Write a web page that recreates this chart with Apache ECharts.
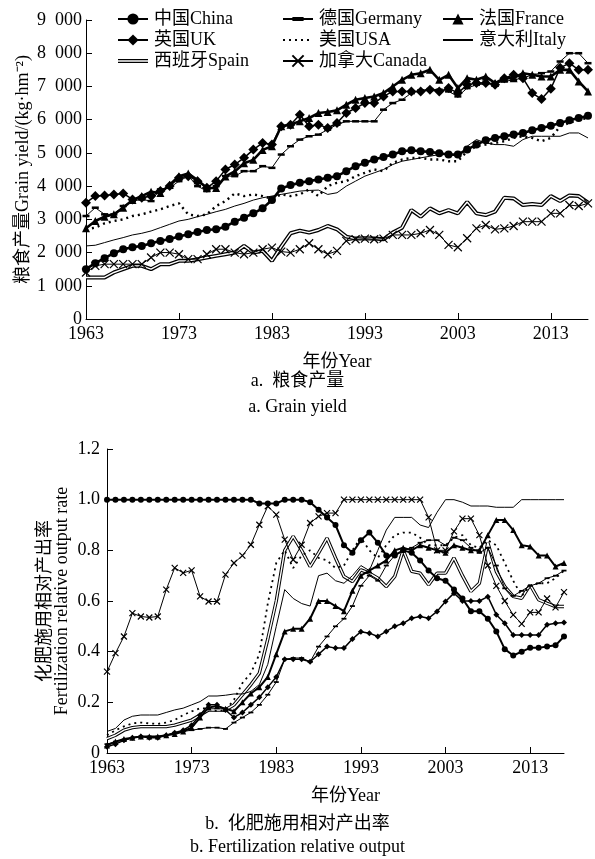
<!DOCTYPE html>
<html>
<head>
<meta charset="utf-8">
<script src="https://cdn.jsdelivr.net/npm/echarts@6/dist/echarts.min.js"></script>
<style>
  html, body { margin: 0; padding: 0; background: #fff; }
  #chart { width: 595px; height: 859px; }
</style>
</head>
<body>
<div id="chart"></div>
<script>
const years = [1963, 1964, 1965, 1966, 1967, 1968, 1969, 1970, 1971, 1972,
  1973, 1974, 1975, 1976, 1977, 1978, 1979, 1980, 1981, 1982,
  1983, 1984, 1985, 1986, 1987, 1988, 1989, 1990, 1991, 1992,
  1993, 1994, 1995, 1996, 1997, 1998, 1999, 2000, 2001, 2002,
  2003, 2004, 2005, 2006, 2007, 2008, 2009, 2010, 2011, 2012,
  2013, 2014, 2015, 2016, 2017]
const xTicks = [1963, 1973, 1983, 1993, 2003, 2013]

// a. grain yield, kg/hm2
const yieldChina = [1500, 1680, 1830, 1980, 2100, 2160, 2200, 2280, 2350, 2410,
  2480, 2550, 2620, 2680, 2700, 2780, 2930, 3050, 3180, 3330,
  3580, 3930, 4030, 4100, 4150, 4200, 4250, 4300, 4450, 4600,
  4700, 4800, 4880, 4950, 5050, 5080, 5050, 5030, 4990, 4950,
  4950, 5100, 5250, 5380, 5450, 5500, 5550, 5600, 5680, 5750,
  5820, 5900, 5980, 6050, 6120]
const yieldGermany = [3100, 3350, 3150, 3150, 3400, 3550, 3600, 3550, 3900, 3950,
  4150, 4300, 4000, 3850, 4000, 4300, 4300, 4450, 4450, 4600,
  4550, 4950, 5200, 5400, 5500, 5550, 5700, 5850, 5950, 5950,
  5950, 5950, 6300, 6500, 6600, 6800, 6880, 6920, 6900, 6850,
  6700, 6950, 7050, 7080, 7100, 7150, 7200, 7250, 7350, 7400,
  7450, 7750, 8000, 8000, 7700]
const yieldFrance = [2730, 2950, 3080, 3150, 3350, 3580, 3700, 3830, 3790, 4040,
  4300, 4380, 4180, 3950, 3940, 4290, 4440, 4690, 4790, 5090,
  5200, 5800, 5850, 5950, 6050, 6200, 6230, 6280, 6450, 6600,
  6650, 6700, 6800, 7000, 7200, 7350, 7400, 7500, 7200, 7350,
  6950, 7250, 7200, 7300, 7100, 7250, 7250, 7400, 7350, 7300,
  7300, 7500, 7500, 7150, 6850]
const yieldUK = [3500, 3700, 3720, 3750, 3780, 3600, 3650, 3700, 3850, 4000,
  4250, 4300, 4150, 3950, 4150, 4500, 4650, 4850, 5100, 5300,
  5250, 5800, 5850, 6150, 5800, 5850, 5750, 5900, 6200, 6350,
  6500, 6500, 6700, 6850, 6850, 6850, 6850, 6900, 6850, 6950,
  6800, 7050, 7100, 7100, 7050, 7250, 7350, 7250, 6800, 6620,
  6930, 7560, 7700, 7500, 7500]
const yieldUSA = [2700, 2750, 2880, 2950, 3000, 3100, 3150, 3230, 3300, 3400,
  3480, 3150, 3100, 3150, 3400, 3550, 3780, 3700, 3750, 3700,
  3620, 3750, 3700, 3750, 3900, 3700, 4000, 4100, 4150, 4300,
  4400, 4500, 4450, 4700, 4800, 4850, 4850, 4800, 4800, 4750,
  4750, 5050, 5200, 5250, 5300, 5350, 5450, 5500, 5450, 5350,
  5450, 5800, 5900, 6000, 6050]
const yieldItaly = [2200, 2220, 2300, 2380, 2450, 2530, 2580, 2650, 2750, 2850,
  2950, 3000, 3080, 3150, 3230, 3300, 3400, 3480, 3580, 3650,
  3700, 3750, 3800, 3850, 3870, 3880, 3750, 3800, 4000, 4150,
  4300, 4400, 4500, 4650, 4750, 4800, 4850, 4900, 4950, 4950,
  4900, 5200, 5400, 5300, 5250, 5250, 5200, 5400, 5500, 5500,
  5500, 5500, 5600, 5600, 5450]
const yieldSpain = [1250, 1250, 1250, 1400, 1500, 1600, 1600, 1500, 1650, 1650,
  1750, 1750, 1800, 1850, 1900, 1950, 2000, 2200, 2000, 2050,
  1750, 2180, 2580, 2660, 2600, 2680, 2800, 2700, 2480, 2420,
  2430, 2420, 2400, 2600, 2750, 3280, 3080, 3330, 3180, 3280,
  3180, 3520, 3180, 3130, 3230, 3650, 3630, 3430, 3460, 3430,
  3700, 3550, 3720, 3700, 3500]
const yieldCanada = [1400, 1600, 1650, 1650, 1650, 1650, 1650, 1850, 2000, 2000,
  1950, 1800, 1800, 1950, 2100, 2100, 2000, 1950, 2000, 2100,
  2150, 2030, 2000, 2100, 2280, 2100, 1950, 2050, 2350, 2400,
  2420, 2400, 2420, 2530, 2530, 2530, 2580, 2680, 2530, 2230,
  2160, 2430, 2730, 2830, 2700, 2730, 2800, 2930, 2930, 2930,
  3180, 3180, 3430, 3400, 3480]

// b. fertilization relative output rate
const rateChina = [1, 1, 1, 1, 1, 1, 1, 1, 1, 1,
  1, 1, 1, 1, 1, 1, 1, 1, 0.985, 0.985,
  0.985, 1, 1, 1, 0.99, 0.96, 0.93, 0.90, 0.82, 0.79,
  0.84, 0.87, 0.83, 0.78, 0.78, 0.80, 0.79, 0.76, 0.72, 0.69,
  0.68, 0.645, 0.61, 0.56, 0.56, 0.53, 0.48, 0.41, 0.385, 0.40,
  0.415, 0.415, 0.42, 0.425, 0.46]
const rateGermany = [0.035, 0.045, 0.05, 0.06, 0.065, 0.065, 0.065, 0.07, 0.08, 0.085,
  0.09, 0.095, 0.10, 0.10, 0.095, 0.12, 0.14, 0.16, 0.19, 0.23,
  0.28, 0.37, 0.375, 0.375, 0.36, 0.42, 0.46, 0.50, 0.53, 0.58,
  0.66, 0.70, 0.68, 0.74, 0.78, 0.80, 0.81, 0.83, 0.84, 0.84,
  0.82, 0.85, 0.84, 0.81, 0.79, 0.81, 0.74, 0.65, 0.62, 0.64,
  0.66, 0.67, 0.69, 0.70, 0.72]
const rateFrance = [0.03, 0.045, 0.055, 0.06, 0.065, 0.065, 0.065, 0.07, 0.075, 0.085,
  0.10, 0.14, 0.18, 0.185, 0.175, 0.165, 0.20, 0.235, 0.26, 0.30,
  0.39, 0.48, 0.49, 0.49, 0.53, 0.60, 0.60, 0.58, 0.56, 0.64,
  0.70, 0.72, 0.74, 0.76, 0.80, 0.81, 0.80, 0.82, 0.81, 0.80,
  0.79, 0.82, 0.81, 0.80, 0.80, 0.86, 0.92, 0.92, 0.88, 0.82,
  0.815, 0.78, 0.78, 0.736, 0.75]
const rateUK = [0.025, 0.035, 0.05, 0.06, 0.065, 0.06, 0.06, 0.07, 0.08, 0.09,
  0.11, 0.15, 0.19, 0.19, 0.17, 0.14, 0.16, 0.19, 0.22, 0.26,
  0.30, 0.37, 0.37, 0.37, 0.36, 0.39, 0.42, 0.414, 0.414, 0.45,
  0.479, 0.473, 0.46, 0.48, 0.50, 0.512, 0.532, 0.539, 0.532, 0.559,
  0.598, 0.631, 0.60, 0.60, 0.60, 0.617, 0.546, 0.512, 0.466, 0.466,
  0.466, 0.466, 0.506, 0.512, 0.515]
const rateUSA = [0.07, 0.09, 0.105, 0.117, 0.12, 0.117, 0.115, 0.12, 0.13, 0.15,
  0.164, 0.177, 0.175, 0.165, 0.17, 0.21, 0.276, 0.315, 0.39, 0.59,
  0.75, 0.80, 0.73, 0.78, 0.80, 0.77, 0.76, 0.73, 0.74, 0.80,
  0.85, 0.80, 0.77, 0.82, 0.86, 0.87, 0.87, 0.85, 0.82, 0.82,
  0.82, 0.85, 0.86, 0.82, 0.81, 0.84, 0.82, 0.75, 0.68, 0.62,
  0.66, 0.67, 0.67, 0.69, 0.72]
const rateItaly = [0.085, 0.097, 0.13, 0.145, 0.15, 0.15, 0.15, 0.16, 0.17, 0.177,
  0.19, 0.203, 0.225, 0.225, 0.228, 0.233, 0.233, 0.243, 0.27, 0.35,
  0.50, 0.645, 0.61, 0.59, 0.58, 0.70, 0.71, 0.68, 0.67, 0.70,
  0.74, 0.72, 0.80, 0.88, 0.93, 0.93, 0.93, 0.90, 0.89, 0.95,
  1, 1, 0.99, 0.975, 0.975, 0.975, 0.97, 0.97, 0.97, 1,
  1, 1, 1, 1, 1]
const rateSpain = [0.057, 0.07, 0.09, 0.10, 0.104, 0.104, 0.104, 0.104, 0.11, 0.12,
  0.13, 0.15, 0.17, 0.17, 0.17, 0.19, 0.23, 0.27, 0.315, 0.45,
  0.60, 0.80, 0.855, 0.80, 0.736, 0.79, 0.848, 0.77, 0.697, 0.677,
  0.723, 0.71, 0.69, 0.657, 0.697, 0.80, 0.717, 0.71, 0.664, 0.71,
  0.71, 0.77, 0.70, 0.638, 0.67, 0.83, 0.717, 0.657, 0.618, 0.611,
  0.664, 0.605, 0.591, 0.578, 0.578]
const rateCanada = [0.321, 0.394, 0.46, 0.552, 0.539, 0.535, 0.539, 0.645, 0.731, 0.711,
  0.721, 0.618, 0.598, 0.598, 0.704, 0.75, 0.779, 0.822, 0.901, 0.974,
  0.941, 0.842, 0.763, 0.822, 0.908, 0.934, 0.947, 0.947, 1, 1,
  1, 1, 1, 1, 1, 1, 1, 1, 0.93, 0.80,
  0.80, 0.875, 0.925, 0.925, 0.86, 0.74, 0.66, 0.60, 0.545, 0.51,
  0.555, 0.555, 0.61, 0.575, 0.635]

const FONT = '"Liberation Serif", "Times New Roman", "Noto Sans CJK SC", serif'
const names = {
  China: '中国China', Germany: '德国Germany', France: '法国France',
  UK: '英国UK', USA: '美国USA', Italy: '意大利Italy',
  Spain: '西班牙Spain', Canada: '加拿大Canada'
}
const crossIcon = 'path://M0,0L10,10M10,0L0,10'
// flat dash inside a square box, so the legend icon stays a dash too
const dashIcon = 'path://M0,3.2H10V6.8H0Z M0,0L0,0 M10,10L10,10'
// hollow bar for the Spain legend entry (outer bar with a hole)
const spainIcon = 'path://M0,5H30V9H0Z M0,6.3V7.7H30V6.3Z M0,0L0,0 M30,14L30,14'

const pair = (arr) => years.map((y, i) => [y, arr[i]])

const styles = {
  China: { symbol: 'circle', size: 8, width: 2.6 },
  Germany: { symbol: dashIcon, size: 7, width: 1 },
  France: { symbol: 'triangle', size: 8, width: 2.6 },
  UK: { symbol: 'diamond', size: 10, width: 1.5 },
  USA: { symbol: null, width: 2.4, type: [2, 4] },
  Italy: { symbol: null, width: 1 },
  Spain: { symbol: null, width: 4 },
  Canada: { symbol: crossIcon, size: 8, width: 1 },
}

const mkSeries = (key, arr, idx, small) => {
  const st = styles[key]
  const plain = !st.symbol
  let size = st.size || 0
  if (small && size) size = key === 'UK' ? 6 : size - 2
  let itemStyle = { color: '#000' }
  if (key === 'Canada') itemStyle = { color: 'rgba(0,0,0,0)', borderColor: '#000', borderWidth: 1.2 }
  if (plain) itemStyle = { color: 'rgba(0,0,0,0)', borderWidth: 0 }
  return {
    name: names[key],
    type: 'line',
    xAxisIndex: idx,
    yAxisIndex: idx,
    data: pair(arr),
    symbol: plain ? 'circle' : st.symbol,
    symbolSize: size,
    showSymbol: !plain,
    lineStyle: { color: '#000', width: small && st.width > 2 ? st.width - 0.6 : st.width, type: st.type || 'solid' },
    itemStyle,
    z: key === 'Spain' ? 2 : 3,
    animation: false,
    silent: true,
  }
}

const spainInner = (arr, idx) => ({
  name: 'spain-inner',
  type: 'line',
  xAxisIndex: idx,
  yAxisIndex: idx,
  data: pair(arr),
  symbol: 'none',
  lineStyle: { color: '#fff', width: 1.4 },
  z: 2,
  animation: false,
  silent: true,
})

const seriesA = [
  mkSeries('Spain', yieldSpain, 0), spainInner(yieldSpain, 0),
  mkSeries('China', yieldChina, 0), mkSeries('Germany', yieldGermany, 0),
  mkSeries('France', yieldFrance, 0), mkSeries('UK', yieldUK, 0),
  mkSeries('USA', yieldUSA, 0), mkSeries('Italy', yieldItaly, 0),
  mkSeries('Canada', yieldCanada, 0),
]
const seriesB = [
  mkSeries('Spain', rateSpain, 1, true), spainInner(rateSpain, 1),
  mkSeries('China', rateChina, 1, true), mkSeries('Germany', rateGermany, 1, true),
  mkSeries('France', rateFrance, 1, true), mkSeries('UK', rateUK, 1, true),
  mkSeries('USA', rateUSA, 1, true), mkSeries('Italy', rateItaly, 1, true),
  mkSeries('Canada', rateCanada, 1, true),
]

const legendItem = (k) => k === 'Spain'
  ? { name: names[k], icon: spainIcon, itemStyle: { color: '#000', borderWidth: 0 } }
  : { name: names[k] }

const legendCol = (left, keys) => ({
  orient: 'vertical',
  left,
  top: 5,
  itemWidth: 30,
  itemHeight: 14,
  itemGap: 3,
  selectedMode: false,
  data: keys.map(legendItem),
  textStyle: { fontFamily: FONT, fontSize: 18, color: '#000', padding: [0, 0, 0, 1] },
})

const xAxisBase = (gridIndex) => ({
  gridIndex,
  type: 'value',
  min: 1963,
  max: 2017,
  interval: 10,
  splitLine: { show: false },
  axisLine: { lineStyle: { color: '#000', width: 1 } },
  axisTick: { inside: true, length: 6, lineStyle: { color: '#000' }, customValues: xTicks },
  axisLabel: { fontFamily: FONT, fontSize: 18, color: '#000', margin: 6, customValues: xTicks, formatter: v => String(v) },
  name: '年份Year',
  nameLocation: 'middle',
  nameGap: 34,
  nameTextStyle: { fontFamily: FONT, fontSize: 18, color: '#000' },
})

const yTickStyle = {
  axisLine: { show: true, lineStyle: { color: '#000', width: 1 } },
  axisTick: { show: true, inside: true, length: 6, lineStyle: { color: '#000' } },
  splitLine: { show: false },
}

const chart = echarts.init(document.getElementById('chart'), null, { renderer: 'canvas' })
chart.setOption({
  backgroundColor: '#fff',
  animation: false,
  grid: [
    { left: 86, top: 20, width: 502, height: 299 },
    { left: 107, top: 449, width: 457, height: 304 },
  ],
  legend: [
    legendCol(112, ['China', 'UK', 'Spain']),
    legendCol(277, ['Germany', 'USA', 'Canada']),
    legendCol(437, ['France', 'Italy']),
  ],
  xAxis: [
    xAxisBase(0),
    Object.assign(xAxisBase(1), {
      nameTextStyle: { fontFamily: FONT, fontSize: 18, color: '#000', padding: [0, 0, 0, 20] },
    }),
  ],
  yAxis: [
    Object.assign({
      gridIndex: 0, type: 'value', min: 0, max: 9000, interval: 1000,
      axisLabel: { fontFamily: FONT, fontSize: 18, color: '#000', margin: 4,
        formatter: v => v === 0 ? '0' : (v / 1000) + '\u2002000' },
      name: '粮食产量Grain yield/(kg·hm⁻²)',
      nameLocation: 'middle',
      nameGap: 54,
      nameMoveOverlap: false,
      nameTextStyle: { fontFamily: FONT, fontSize: 18, color: '#000' },
    }, yTickStyle),
    Object.assign({
      gridIndex: 1, type: 'value', min: 0, max: 1.2, interval: 0.2,
      axisLabel: { fontFamily: FONT, fontSize: 18, color: '#000', margin: 7,
        formatter: v => v === 0 ? '0' : v.toFixed(1) },
      name: '化肥施用相对产出率\nFertilization relative output rate',
      nameLocation: 'middle',
      nameGap: 36,
      nameMoveOverlap: false,
      nameTextStyle: { fontFamily: FONT, fontSize: 18, color: '#000', lineHeight: 17 },
    }, yTickStyle),
  ],
  graphic: [
    { type: 'text', left: 'center', top: 372, style: { text: 'a.  粮食产量', fontFamily: FONT, fontSize: 18, fill: '#000' } },
    { type: 'text', left: 'center', top: 398, style: { text: 'a. Grain yield', fontFamily: FONT, fontSize: 18, fill: '#000' } },
    { type: 'text', left: 'center', top: 815, style: { text: 'b.  化肥施用相对产出率', fontFamily: FONT, fontSize: 18, fill: '#000' } },
    { type: 'text', left: 'center', top: 838, style: { text: 'b. Fertilization relative output', fontFamily: FONT, fontSize: 18, fill: '#000' } },
  ],
  series: seriesA.concat(seriesB),
})
</script>
</body>
</html>
